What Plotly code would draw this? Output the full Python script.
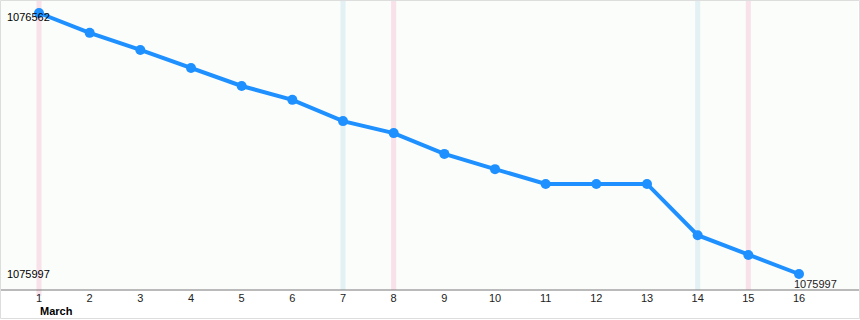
import plotly.graph_objects as go

days = list(range(1, 17))
values = [1076562, 1076519, 1076482, 1076443, 1076404, 1076374, 1076328, 1076302,
          1076257, 1076224, 1076192, 1076192, 1076192, 1076081, 1076038, 1075997]
tick_labels = [str(d) for d in days]
month_label = "March"
saturdays = [7, 14]
sundays = [1, 8, 15]

W, H = 860, 320
ml, mr, mt, mb = 0, 2, 0, 30
pw, ph = W - ml - mr, H - mt - mb

vmax, vmin = max(values), min(values)
px_per_day = 760 / 15
px_per_val = (vmax - vmin) / 261
x_range = [1 - 39 / px_per_day, 16 + (pw - 799) / px_per_day]
y_range = [vmin - 16 * px_per_val, vmax + 13 * px_per_val]

fig = go.Figure()
fig.add_trace(go.Scatter(
    x=days, y=values, mode="lines+markers",
    line=dict(color="#1e90ff", width=4),
    marker=dict(color="#1e90ff", size=10),
    hoverinfo="x+y", showlegend=False,
))

shapes = []
half = 0.05
for d in saturdays:
    shapes.append(dict(type="rect", xref="x", yref="paper", x0=d - half, x1=d + half,
                       y0=0, y1=1, fillcolor="#e3f1f5", line=dict(width=0), layer="below"))
for d in sundays:
    shapes.append(dict(type="rect", xref="x", yref="paper", x0=d - half, x1=d + half,
                       y0=(-6 / ph) if d == 1 else 0, y1=1,
                       fillcolor="#f9e1ea", line=dict(width=0), layer="below"))
# axis line across full width
shapes.append(dict(type="line", xref="paper", yref="paper", x0=0, x1=W / pw, y0=0, y1=0,
                   line=dict(color="#777777", width=1)))
# outer border
shapes.append(dict(type="rect", xref="paper", yref="paper", x0=0.5 / pw, x1=(W - 0.5) / pw,
                   y0=-(mb - 1.5) / ph, y1=1 - 0.5 / ph,
                   line=dict(color="#dddddd", width=1), fillcolor="rgba(0,0,0,0)"))

annotations = [
    dict(xref="paper", yref="y", x=5 / pw, y=vmax, text=f"{vmax}", showarrow=False,
         xanchor="left", yanchor="middle", yshift=-4, font=dict(size=11, color="#000")),
    dict(xref="paper", yref="y", x=5 / pw, y=vmin, text=f"{vmin}", showarrow=False,
         xanchor="left", yanchor="middle", font=dict(size=11, color="#000")),
    dict(xref="x", yref="y", x=days[-1], y=values[-1], text=f"{values[-1]}", showarrow=False,
         xanchor="left", yanchor="top", xshift=-7, yshift=-2, font=dict(size=11, color="#222")),
    dict(xref="x", yref="paper", x=1, y=-13 / ph, text=f"<b>{month_label}</b>", showarrow=False,
         xanchor="left", yanchor="top", xshift=-1, font=dict(size=11, color="#000")),
]

fig.update_layout(
    width=W, height=H,
    margin=dict(l=ml, r=mr, t=mt, b=mb),
    paper_bgcolor="white",
    plot_bgcolor="#fbfdfb",
    font=dict(family="Arial, Liberation Sans, sans-serif", size=11, color="#222"),
    shapes=shapes,
    annotations=annotations,
    xaxis=dict(range=x_range, tickmode="array", tickvals=days, ticktext=tick_labels,
               showgrid=False, zeroline=False, showline=False, ticks="",
               tickfont=dict(size=11, color="#222"), fixedrange=True),
    yaxis=dict(range=y_range, showgrid=False, zeroline=False, showticklabels=False,
               showline=False, fixedrange=True),
)

fig.write_html("out.html")
